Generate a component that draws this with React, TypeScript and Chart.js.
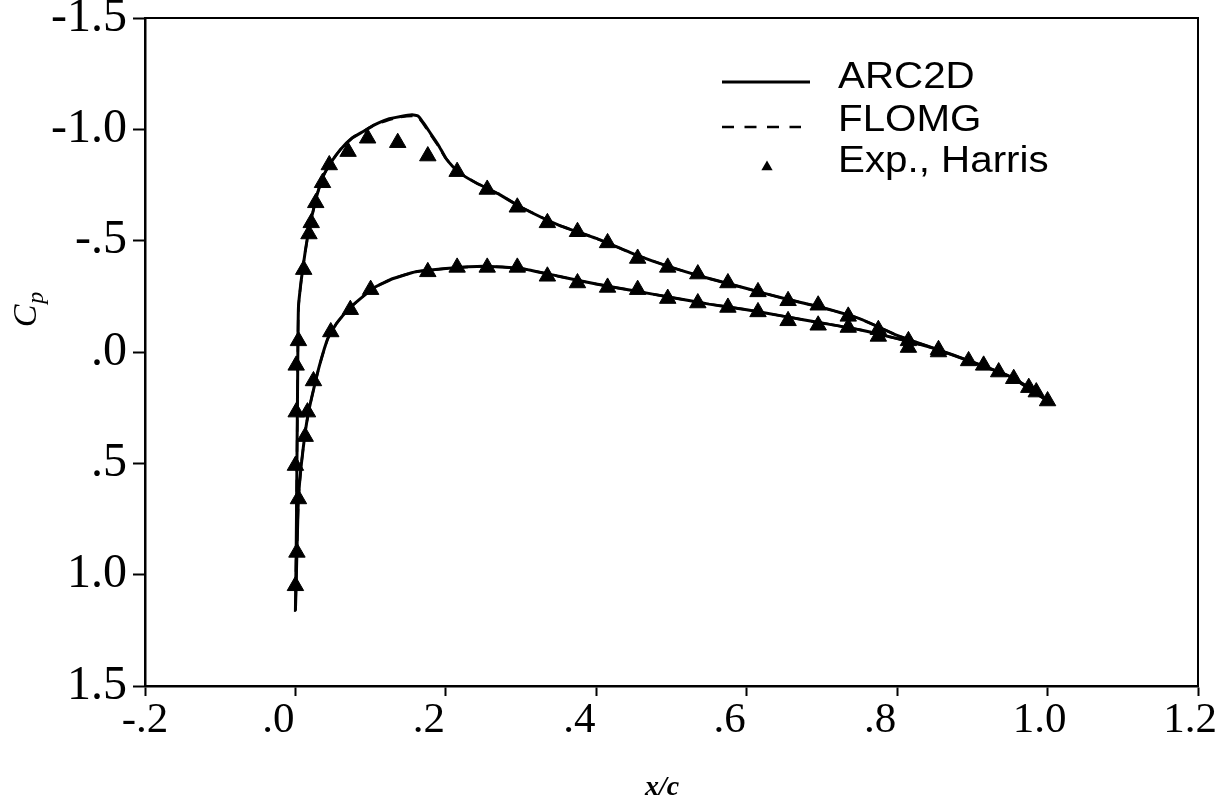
import React, { useEffect, useRef } from "react";
import { Chart, registerables } from "chart.js";

Chart.register(...registerables);

// ---- tick labels ----
const xTickValues = [-0.2, 0.0, 0.2, 0.4, 0.6, 0.8, 1.0, 1.2];
const xTickLabels = ["-.2", ".0", ".2", ".4", ".6", ".8", "1.0", "1.2"];
const yTickLabels = ["-1.5", "-1.0", "-.5", ".0", ".5", "1.0", "1.5"];
const legendLabels = ["ARC2D", "FLOMG", "Exp., Harris"];

// ---- ARC2D (solid) ----
const arcUpperX = [0.0, 0.001, 0.002, 0.003, 0.004, 0.008, 0.013, 0.018, 0.024, 0.03, 0.037, 0.047, 0.06, 0.075, 0.09, 0.105, 0.122, 0.14, 0.155, 0.163, 0.17, 0.18, 0.19, 0.2, 0.21, 0.22, 0.24, 0.27, 0.3, 0.35, 0.4, 0.45, 0.5, 0.55, 0.6, 0.65, 0.7, 0.75, 0.8, 0.85, 0.9, 0.95, 0.98, 1.0];
const arcUpperCp = [1.16, 0.9, 0.5, 0.1, -0.2, -0.33, -0.45, -0.55, -0.64, -0.72, -0.79, -0.85, -0.91, -0.96, -0.99, -1.02, -1.045, -1.058, -1.065, -1.06, -1.03, -0.98, -0.93, -0.87, -0.83, -0.8, -0.76, -0.71, -0.65, -0.57, -0.51, -0.44, -0.38, -0.33, -0.285, -0.24, -0.2, -0.15, -0.075, -0.015, 0.045, 0.11, 0.17, 0.22];
const arcLowerX = [0.0, 0.002, 0.004, 0.008, 0.013, 0.018, 0.024, 0.032, 0.043, 0.055, 0.073, 0.09, 0.105, 0.13, 0.16, 0.2, 0.25, 0.3, 0.35, 0.4, 0.45, 0.5, 0.55, 0.6, 0.65, 0.7, 0.75, 0.8, 0.85, 0.9, 0.95, 1.0];
const arcLowerCp = [1.16, 0.9, 0.66, 0.5, 0.36, 0.26, 0.17, 0.06, -0.06, -0.13, -0.2, -0.25, -0.29, -0.33, -0.36, -0.375, -0.385, -0.375, -0.34, -0.305, -0.275, -0.245, -0.215, -0.19, -0.16, -0.13, -0.1, -0.06, -0.015, 0.045, 0.11, 0.22];

// ---- FLOMG (dashed) ----
const flomgUpperCp = [1.16, 0.9, 0.5, 0.1, -0.2, -0.33, -0.45, -0.55, -0.64, -0.72, -0.79, -0.85, -0.91, -0.96, -0.99, -1.02, -1.04, -1.055, -1.06, -1.055, -1.025, -0.975, -0.925, -0.87, -0.83, -0.8, -0.76, -0.71, -0.65, -0.57, -0.51, -0.44, -0.38, -0.33, -0.285, -0.24, -0.2, -0.15, -0.075, -0.015, 0.045, 0.11, 0.17, 0.22];
const flomgLowerCp = [1.16, 0.9, 0.66, 0.5, 0.36, 0.26, 0.17, 0.06, -0.06, -0.13, -0.2, -0.25, -0.29, -0.33, -0.36, -0.375, -0.385, -0.375, -0.34, -0.305, -0.275, -0.245, -0.215, -0.19, -0.16, -0.13, -0.1, -0.06, -0.015, 0.045, 0.11, 0.22];

// ---- Experiment, Harris ----
const expUpperX = [0.0, 0.002, 0.0, 0.001, 0.001, 0.004, 0.011, 0.018, 0.021, 0.027, 0.036, 0.045, 0.07, 0.096, 0.136, 0.176, 0.215, 0.255, 0.295, 0.335, 0.375, 0.415, 0.455, 0.495, 0.535, 0.575, 0.615, 0.655, 0.695, 0.735, 0.775, 0.815, 0.855, 0.895, 0.915, 0.935, 0.955, 0.975, 0.985, 1.0];
const expUpperCp = [1.05, 0.9, 0.51, 0.27, 0.06, -0.05, -0.37, -0.53, -0.58, -0.67, -0.76, -0.84, -0.9, -0.96, -0.94, -0.88, -0.81, -0.73, -0.65, -0.58, -0.54, -0.49, -0.42, -0.38, -0.35, -0.31, -0.27, -0.23, -0.21, -0.16, -0.1, -0.05, -0.01, 0.04, 0.06, 0.09, 0.12, 0.16, 0.18, 0.22];
const expLowerX = [0.004, 0.013, 0.016, 0.024, 0.047, 0.073, 0.1, 0.176, 0.215, 0.255, 0.295, 0.335, 0.375, 0.415, 0.455, 0.495, 0.535, 0.575, 0.615, 0.655, 0.695, 0.735, 0.775, 0.815, 0.855];
const expLowerCp = [0.66, 0.38, 0.27, 0.13, -0.09, -0.19, -0.28, -0.36, -0.38, -0.38, -0.38, -0.34, -0.31, -0.29, -0.28, -0.24, -0.22, -0.2, -0.18, -0.14, -0.12, -0.11, -0.07, -0.02, 0.0];

const pts = (xs: number[], ys: number[]) => xs.map((x, i) => ({ x, y: ys[i] }));
// continuous loop: trailing edge (lower) -> leading edge -> trailing edge (upper)
const loop = (lx: number[], ly: number[], ux: number[], uy: number[]) =>
  [...pts(lx, ly).reverse(), ...pts(ux, uy).slice(1)];

const SERIF = '"Liberation Serif", "Times New Roman", serif';
const SANS = '"Liberation Sans", Arial, sans-serif';

const decorPlugin = {
  id: "decor",
  afterDraw(chart: any) {
    const ctx: CanvasRenderingContext2D = chart.ctx;
    const a = chart.chartArea;
    ctx.save();
    // frame
    ctx.strokeStyle = "#000";
    ctx.lineWidth = 2;
    ctx.setLineDash([]);
    ctx.strokeRect(a.left, a.top, a.right - a.left, a.bottom - a.top);

    // x tick labels (placed at the scale's tick pixels)
    const xs = chart.scales.x;
    ctx.fillStyle = "#000";
    ctx.font = `43px ${SERIF}`;
    ctx.textAlign = "center";
    ctx.textBaseline = "middle";
    xTickValues.forEach((v, i) => {
      const lab = xTickLabels[i];
      const shift = lab.startsWith(".") ? -17 : lab.startsWith("-") ? 0 : -8;
      ctx.fillText(lab, xs.getPixelForValue(v) + shift, a.bottom + 35);
    });

    // legend
    ctx.lineWidth = 3;
    ctx.beginPath();
    ctx.moveTo(722, 82);
    ctx.lineTo(810, 82);
    ctx.stroke();
    ctx.setLineDash([12, 10.5]);
    ctx.lineWidth = 2.5;
    ctx.beginPath();
    ctx.moveTo(722, 127);
    ctx.lineTo(801, 127);
    ctx.stroke();
    ctx.setLineDash([]);
    const tx = 767, ty = 167, r = 6.5;
    ctx.beginPath();
    ctx.moveTo(tx, ty - r);
    ctx.lineTo(tx + r * 0.866, ty + r / 2);
    ctx.lineTo(tx - r * 0.866, ty + r / 2);
    ctx.closePath();
    ctx.fill();
    ctx.font = `36px ${SANS}`;
    ctx.textBaseline = "alphabetic";
    ctx.textAlign = "left";
    const baselines = [88, 131, 172];
    legendLabels.forEach((t, i) => {
      ctx.save();
      ctx.translate(838, baselines[i]);
      ctx.scale(1.12, 1);
      ctx.fillText(t, 0, 0);
      ctx.restore();
    });

    // y title  C_p
    ctx.save();
    ctx.translate(25, 310);
    ctx.rotate(-Math.PI / 2);
    ctx.font = `italic 34px ${SERIF}`;
    const wC = ctx.measureText("C").width;
    ctx.font = `italic 24px ${SERIF}`;
    const wp = ctx.measureText("p").width;
    const start = -(wC + wp) / 2;
    ctx.textBaseline = "alphabetic";
    ctx.font = `italic 34px ${SERIF}`;
    ctx.fillText("C", start, 11);
    ctx.font = `italic 24px ${SERIF}`;
    ctx.fillText("p", start + wC + 1, 18);
    ctx.restore();

    // x title  x/c
    ctx.font = `italic bold 28px ${SERIF}`;
    ctx.textAlign = "center";
    ctx.textBaseline = "middle";
    ctx.fillText("x/c", 662, 788);
    ctx.restore();
  },
};

export default function App() {
  const ref = useRef<HTMLCanvasElement | null>(null);

  useEffect(() => {
    if (!ref.current) return;
    const chart = new Chart(ref.current, {
      type: "scatter",
      data: {
        datasets: [
          {
            label: legendLabels[0],
            data: loop(arcLowerX, arcLowerCp, arcUpperX, arcUpperCp),
            showLine: true,
            borderColor: "#000",
            borderWidth: 3,
            pointRadius: 0,
            tension: 0.15,
            fill: false,
          },
          {
            label: legendLabels[1],
            data: loop(arcLowerX, flomgLowerCp, arcUpperX, flomgUpperCp),
            showLine: true,
            borderColor: "#000",
            borderWidth: 2.5,
            borderDash: [12, 8],
            pointRadius: 0,
            tension: 0.15,
            fill: false,
          },
          {
            label: legendLabels[2],
            data: [...pts(expUpperX, expUpperCp), ...pts(expLowerX, expLowerCp)],
            showLine: false,
            pointStyle: "triangle",
            pointRadius: 9.5,
            backgroundColor: "#000",
            borderColor: "#000",
            borderWidth: 1,
          },
        ],
      },
      options: {
        responsive: false,
        animation: false,
        layout: { padding: { top: 18, right: 19, left: 0, bottom: 0 } },
        plugins: {
          legend: { display: false },
          tooltip: { enabled: false },
          title: { display: false },
        },
        scales: {
          x: {
            type: "linear",
            min: -0.2,
            max: 1.2,
            ticks: {
              stepSize: 0.2,
              autoSkip: false,
              maxRotation: 0,
              display: false,
            },
            grid: { drawOnChartArea: false, drawTicks: true, tickLength: 10, tickColor: "#000", tickWidth: 2 },
            border: { color: "#000", width: 2.5 },
            afterFit: (s: any) => {
              s.height = 124;
              s.paddingLeft = 0;
              s.paddingRight = 0;
            },
          },
          y: {
            type: "linear",
            reverse: true,
            min: -1.5,
            max: 1.5,
            ticks: {
              stepSize: 0.5,
              autoSkip: false,
              color: "#000",
              padding: 6,
              font: { family: SERIF, size: 48 },
              callback: (v: any) => yTickLabels[Math.round((Number(v) + 1.5) / 0.5)] ?? "",
            },
            grid: { drawOnChartArea: false, drawTicks: true, tickLength: 12, tickColor: "#000", tickWidth: 2 },
            border: { color: "#000", width: 2.5 },
            afterFit: (s: any) => {
              s.width = 145;
              s.paddingTop = 0;
              s.paddingBottom = 0;
            },
          },
        },
      },
      plugins: [decorPlugin],
    } as any);
    return () => chart.destroy();
  }, []);

  return (
    <div style={{ position: "fixed", left: 0, top: 0, width: 1217, height: 810, background: "#fff" }}>
      <canvas ref={ref} width={1217} height={810} />
    </div>
  );
}
